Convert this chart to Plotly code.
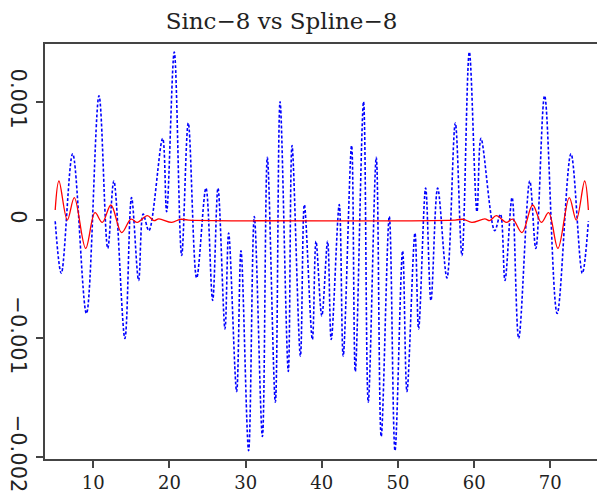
import plotly.graph_objects as go

# Sinc-8 interpolation error (blue, dotted) - extrema
sinc_x = [5.0, 5.8, 7.29, 9.1, 10.75, 11.9, 12.7, 14.15, 15.02, 15.95, 16.55, 17.3,
          19.1, 19.63, 20.63, 21.6, 22.47, 23.57, 24.79, 25.67, 26.37, 27.29, 27.77,
          28.82, 29.39, 30.39, 31.14, 32.2, 32.85, 33.9, 34.52, 35.6, 36.09, 37.19,
          37.71, 38.76, 39.24, 40.0,
          40.76, 41.24, 42.29, 42.81, 43.91, 44.4, 45.48, 46.1, 47.15, 47.8, 48.86,
          49.61, 50.61, 51.18, 52.23, 52.71, 53.63, 54.33, 55.21, 56.43, 57.53, 58.4,
          59.37, 60.37, 60.9, 62.7, 63.45, 64.05, 64.98, 65.85, 67.3, 68.1, 69.25,
          70.9, 72.71, 74.2, 75.0]
sinc_y = [-0.01e-3, -0.45e-3, 0.56e-3, -0.79e-3, 1.05e-3, -0.24e-3, 0.33e-3, -1.0e-3,
          0.19e-3, -0.51e-3, 0.05e-3, -0.09e-3, 0.69e-3, 0.07e-3, 1.42e-3, -0.30e-3,
          0.82e-3, -0.49e-3, 0.27e-3, -0.68e-3, 0.27e-3, -0.92e-3, -0.11e-3, -1.45e-3,
          -0.26e-3, -1.95e-3, 0.03e-3, -1.83e-3, 0.53e-3, -1.54e-3, 1.0e-3, -1.28e-3,
          0.63e-3, -1.15e-3, 0.13e-3, -1.01e-3, -0.18e-3, -0.81e-3,
          -0.18e-3, -1.01e-3, 0.13e-3, -1.15e-3, 0.63e-3, -1.28e-3, 1.0e-3, -1.54e-3,
          0.53e-3, -1.83e-3, 0.03e-3, -1.95e-3, -0.26e-3, -1.45e-3, -0.11e-3, -0.92e-3,
          0.27e-3, -0.68e-3, 0.27e-3, -0.49e-3, 0.82e-3, -0.30e-3, 1.42e-3, 0.07e-3,
          0.69e-3, -0.09e-3, 0.05e-3, -0.51e-3, 0.19e-3, -1.0e-3, 0.33e-3, -0.24e-3,
          1.05e-3, -0.79e-3, 0.56e-3, -0.45e-3, -0.01e-3]

# Spline-8 interpolation error (red, solid)
spline_x = [5.0, 5.49, 6.59, 7.51, 9.0, 10.22, 11.18, 12.32, 13.72, 14.95, 15.78, 17.09,
            17.95, 18.6, 20.3, 21.4, 22.5, 57.5, 58.6, 59.7, 61.4, 62.05, 62.91, 64.22,
            65.05, 66.28, 67.68, 68.82, 69.78, 71.0, 72.49, 73.41, 74.51, 75.0]
spline_y = [0.085e-3, 0.33e-3, 0.0, 0.19e-3, -0.24e-3, 0.062e-3, -0.02e-3, 0.127e-3,
            -0.107e-3, 0.008e-3, -0.02e-3, 0.037e-3, -0.005e-3, 0.01e-3, -0.02e-3,
            0.006e-3, 0.0, 0.0, 0.006e-3, -0.02e-3, 0.01e-3, -0.005e-3, 0.037e-3,
            -0.02e-3, 0.008e-3, -0.107e-3, 0.127e-3, -0.02e-3, 0.062e-3, -0.24e-3,
            0.19e-3, 0.0, 0.33e-3, 0.085e-3]

x_ticks = [10, 20, 30, 40, 50, 60, 70]
y_ticks = [0.001, 0, -0.001, -0.002]
y_tick_labels = ["0.001", "0", "\u22120.001", "\u22120.002"]

fig = go.Figure()
fig.add_trace(go.Scatter(x=sinc_x, y=sinc_y, mode="lines",
                         line=dict(color="#0000ff", width=1.6, dash="3px,2px",
                                   shape="spline", smoothing=1.0),
                         showlegend=False, hoverinfo="skip"))
fig.add_trace(go.Scatter(x=spline_x, y=spline_y, mode="lines",
                         line=dict(color="#ff0000", width=1.3,
                                   shape="spline", smoothing=1.0),
                         showlegend=False, hoverinfo="skip"))

fig.update_layout(
    width=597, height=495,
    margin=dict(l=45, r=0, t=44, b=36),
    paper_bgcolor="white", plot_bgcolor="white",
    title=dict(text="Sinc\u22128 vs Spline\u22128", x=281.5 / 597, xanchor="center",
               y=1 - 21 / 495, yanchor="middle",
               font=dict(family="DejaVu Serif", size=23, color="#222")),
    xaxis=dict(range=[3.66, 76.13], tickvals=x_ticks, ticktext=[str(v) for v in x_ticks],
               showgrid=False, zeroline=False, showline=True, mirror=True,
               linecolor="#444", linewidth=1.5, ticks="outside", ticklen=7,
               tickcolor="#444", tickwidth=1.5,
               tickfont=dict(family="DejaVu Serif", size=18, color="#222")),
    yaxis=dict(range=[-0.00202, 0.001488], tickvals=y_ticks, ticktext=y_tick_labels,
               tickangle=90, showgrid=False, zeroline=False, showline=True, mirror=False,
               linecolor="#444", linewidth=1.5, ticks="outside", ticklen=7,
               tickcolor="#444", tickwidth=1.5,
               tickfont=dict(family="DejaVu Sans", size=21, color="#222")),
)

fig.write_html("out.html")
